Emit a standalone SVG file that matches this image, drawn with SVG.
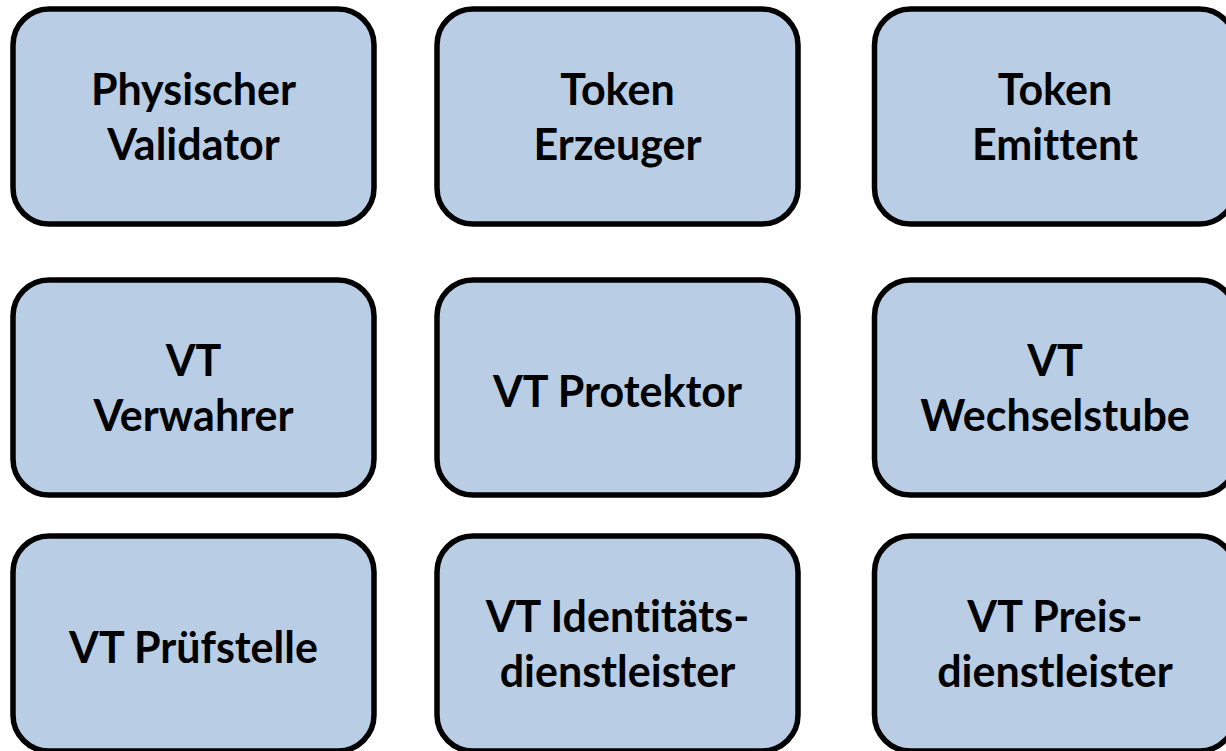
<svg xmlns="http://www.w3.org/2000/svg" width="1226" height="751" viewBox="0 0 1226 751">
<style>
.box{fill:#B9CDE5;stroke:#000;stroke-width:5.5}
.t{font-family:Lato,"Liberation Sans",sans-serif;font-weight:bold;font-size:43px;fill:#000;text-anchor:middle;font-variant-ligatures:none;font-feature-settings:"liga" 0}
</style>
<rect width="1226" height="751" fill="#fff"/>
<g id="n1"><rect class="box" x="13" y="9" width="361" height="215" rx="36"/><text class="t" x="193.5" y="105">Physischer</text><text class="t" x="193.5" y="160">Validator</text></g>
<g id="n2"><rect class="box" x="437" y="9" width="361" height="215" rx="36"/><text class="t" x="617.5" y="105">Token</text><text class="t" x="617.5" y="160">Erzeuger</text></g>
<g id="n3"><rect class="box" x="874.5" y="9" width="361" height="215" rx="36"/><text class="t" x="1055" y="105">Token</text><text class="t" x="1055" y="160">Emittent</text></g>
<g id="n4"><rect class="box" x="13" y="280" width="361" height="215" rx="36"/><text class="t" x="193.5" y="376">VT</text><text class="t" x="193.5" y="431">Verwahrer</text></g>
<g id="n5"><rect class="box" x="437" y="280" width="361" height="215" rx="36"/><text class="t" x="617.5" y="407">VT Protektor</text></g>
<g id="n6"><rect class="box" x="874.5" y="280" width="361" height="215" rx="36"/><text class="t" x="1055" y="376">VT</text><text class="t" x="1055" y="431">Wechselstube</text></g>
<g id="n7"><rect class="box" x="13" y="536" width="361" height="215" rx="36"/><text class="t" x="193.5" y="663">VT Prüfstelle</text></g>
<g id="n8"><rect class="box" x="437" y="536" width="361" height="215" rx="36"/><text class="t" x="617.5" y="632">VT Identitäts-</text><text class="t" x="617.5" y="687">dienstleister</text></g>
<g id="n9"><rect class="box" x="874.5" y="536" width="361" height="215" rx="36"/><text class="t" x="1055" y="632">VT Preis-</text><text class="t" x="1055" y="687">dienstleister</text></g>
<g id="connectors"></g>
</svg>
